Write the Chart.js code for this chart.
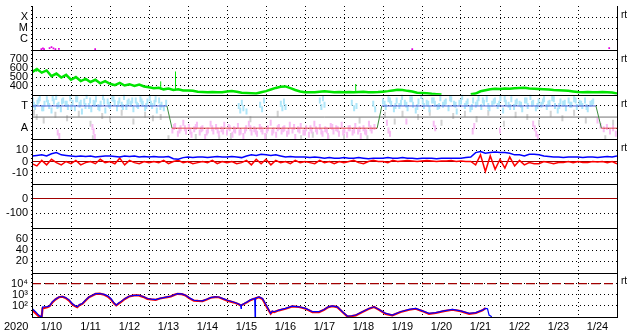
<!DOCTYPE html>
<html>
<head>
<meta charset="utf-8">
<script src="https://cdn.jsdelivr.net/npm/chart.js@4/dist/chart.umd.min.js"></script>
<style>
  html, body { margin: 0; padding: 0; background: #fff; }
  #wrap { position: relative; width: 633px; height: 334px; }
</style>
</head>
<body>
<div id="wrap"><canvas id="chart"></canvas></div>
<script>
// x axis: days since 2020-01-10 00:00
const dayLabels = ['1/10', '1/11', '1/12', '1/13', '1/14', '1/15', '1/16', '1/17', '1/18', '1/19', '1/20', '1/21', '1/22', '1/23', '1/24'];
const yearLabel = '2020';
const fullSpan = [0, 15];

// panel 1: x-ray class
const xrayTicks = [1e-4, 1e-5, 1e-6];
const xrayTickLabels = ['X', 'M', 'C'];
const xrayTime = [0.24, 0.28, 0.31, 0.45, 0.5, 0.55, 0.6, 0.69, 1.62, 9.75, 14.8];
const xrayFlux = [1.3e-7, 1.5e-7, 1.3e-7, 1.6e-7, 2e-7, 1.5e-7, 1.3e-7, 1.4e-7, 1.3e-7, 1.3e-7, 1.6e-7];

// panel 2: solar wind speed, one value every 3 hours
const speedTicks = [700, 600, 500, 400];
const speedStep = 0.125;
const speed = [
  555, 590, 550, 575, 510, 540, 495, 525,
  470, 500, 455, 480, 445, 470, 430, 455,
  425, 410, 435, 405, 420, 400, 415, 395,
  385, 375, 380, 362, 370, 356, 362, 350,
  350, 345, 335, 332, 330, 332, 328, 330,
  338, 342, 335, 325, 322, 318, 315, 330,
  342, 360, 378, 392, 395, 375, 355, 338,
  330, 328, 330, 335, 340, 336, 330, 332,
  330, 332, 330, 332, 334, 330, 330, 331,
  336, 342, 350, 358, 355, 345, 338, 325,
  322, 318, 312, 308, 305, null, null, null,
  null, null, 306, 315, 340, 352, 362, 368,
  366, 372, 370, 375, 378, 380, 372, 368,
  365, 362, 360, 355, 352, 348, 345, 338,
  332, 330, 332, 328, 330, 332, 330, 326, 316
];
const speedSpikeTime = [0.12, 3.3, 3.68, 8.3];
const speedSpikeBase = [560, 362, 358, 333];
const speedSpikeTop = [600, 452, 563, 422];

// panel 3: sector (T / A)
const sectorTicks = [1, -1];
const sectorTickLabels = ['T', 'A'];
const sectorTime = [0, 3.46, 3.59, 8.85, 8.97, 14.46, 14.6, 15];
const sectorVal = [1, 1, -1, -1, 1, 1, -1, -1];
const sectorMid = [0, 0];
const phiBlueTime = [
  0.02, 0.08, 0.14, 0.2, 0.26, 0.32, 0.38, 0.44, 0.5, 0.56, 0.62, 0.68, 0.74, 0.8, 0.86, 0.92, 0.98,
  1.04, 1.1, 1.16, 1.22, 1.28, 1.34, 1.4, 1.46, 1.52, 1.58, 1.64, 1.7, 1.76, 1.82, 1.88, 1.94,
  2.0, 2.06, 2.12, 2.18, 2.24, 2.3, 2.36, 2.42, 2.48, 2.54, 2.6, 2.66, 2.72, 2.78, 2.84, 2.9, 2.96,
  3.02, 3.08, 3.14, 3.2, 3.26, 3.32, 3.38, 3.44,
  5.3, 5.34, 5.38, 5.42, 5.5, 5.85, 5.9, 5.95, 6.38, 6.42, 6.46, 6.5, 7.38, 7.42, 7.46, 7.5,
  8.2, 8.26, 8.32, 8.75, 8.8,
  9.0, 9.07, 9.14, 9.21, 9.28, 9.35, 9.42, 9.49, 9.56, 9.63, 9.7, 9.77, 9.84, 9.91, 9.98,
  10.05, 10.12, 10.19, 10.26, 10.33, 10.4, 10.47, 10.54, 10.61, 10.68, 10.75, 10.82, 10.89, 10.96,
  11.03, 11.1, 11.17, 11.24, 11.31, 11.38, 11.45, 11.52, 11.59, 11.66, 11.73, 11.8, 11.87, 11.94,
  12.01, 12.08, 12.15, 12.22, 12.29, 12.36, 12.43, 12.5, 12.57, 12.64, 12.71, 12.78, 12.85, 12.92, 12.99,
  13.06, 13.13, 13.2, 13.27, 13.34, 13.41, 13.48, 13.55, 13.62, 13.69, 13.76, 13.83, 13.9, 13.97,
  14.04, 14.11, 14.18, 14.25, 14.32, 14.39,
  0.05, 0.17, 0.29, 0.41, 0.53, 0.65, 0.77, 0.89, 1.01, 1.13, 1.25, 1.37, 1.49, 1.61, 1.73, 1.85, 1.97,
  2.09, 2.21, 2.33, 2.45, 2.57, 2.69, 2.81, 2.93, 3.05, 3.17, 3.29,
  9.04, 9.18, 9.32, 9.46, 9.6, 9.74, 9.88, 10.02, 10.16, 10.3, 10.44, 10.58, 10.72, 10.86, 11.0,
  11.14, 11.28, 11.42, 11.56, 11.7, 11.84, 11.98, 12.12, 12.26, 12.4, 12.54, 12.68, 12.82, 12.96,
  13.1, 13.24, 13.38, 13.52, 13.66, 13.8, 13.94, 14.08, 14.22, 14.36
];
const phiBlueVal = [
  1.5, 0.9, 1.3, 1.7, 0.8, 1.2, 1.6, 1.0, 0.6, 1.4, 1.8, 1.1, 0.7, 1.5, 1.2, 0.9, 1.7,
  1.3, 0.8, 1.6, 1.1, 0.5, 1.4, 1.9, 1.0, 0.7, 1.3, 1.6, 0.9, 1.2, 1.8, 0.6, 1.4,
  1.0, 1.7, 1.3, 0.8, 1.5, 1.1, 1.8, 0.9, 1.4, 1.2, 0.7, 1.5, 1.0, 1.6, 1.2, 0.8, 1.4,
  1.7, 1.0, 1.3, 0.6, 1.5, 1.1, 0.8, 1.3,
  1.0, 0.6, 1.3, 0.8, 0.5, 1.1, 0.7, 1.5, 1.2, 0.8, 1.4, 0.9, 1.5, 0.9, 1.7, 1.1,
  1.3, 0.8, 1.0, 1.2, 0.7,
  1.4, 0.9, 1.6, 1.2, 0.7, 1.5, 1.0, 1.8, 1.3, 0.8, 1.6, 1.1, 0.6, 1.4, 1.9,
  1.0, 1.3, 0.7, 1.5, 1.2, 0.9, 1.7, 1.1, 1.4, 0.8, 1.6, 1.2, 0.5, 1.3,
  1.8, 1.0, 1.4, 0.7, 1.5, 1.1, 1.7, 0.9, 1.3, 1.6, 0.8, 1.2, 1.5, 1.0,
  1.7, 0.6, 1.3, 1.1, 1.6, 0.9, 1.4, 1.2, 0.7, 1.5, 1.0, 1.8, 1.3, 0.8, 1.4,
  1.1, 1.6, 0.9, 1.3, 1.7, 1.0, 0.6, 1.4, 1.2, 0.8, 1.5, 1.1, 1.6, 0.9,
  1.3, 1.0, 1.5, 0.7, 1.2, 1.4,
  1.1, 1.5, 0.8, 1.3, 1.7, 1.0, 1.4, 1.2, 0.9, 1.6, 1.3, 1.0, 1.5, 1.2, 0.8, 1.4, 1.1,
  1.6, 1.2, 0.9, 1.3, 1.5, 1.1, 1.4, 1.0, 1.2, 1.6, 0.9,
  1.2, 1.5, 1.0, 1.3, 1.1, 1.6, 0.9, 1.4, 1.2, 1.5, 1.0, 1.3, 1.7, 1.1, 1.4,
  1.2, 0.9, 1.3, 1.5, 1.0, 1.4, 1.2, 1.6, 0.9, 1.3, 1.1, 1.5, 1.2, 1.0,
  1.4, 1.2, 1.6, 1.0, 1.3, 1.1, 1.5, 1.2, 0.9, 1.3
];
const phiPinkTime = [
  0.66, 0.7, 1.55, 1.58, 1.61,
  3.6, 3.67, 3.74, 3.81, 3.88, 3.95, 4.02, 4.09, 4.16, 4.23, 4.3, 4.37, 4.44, 4.51, 4.58, 4.65, 4.72, 4.79, 4.86, 4.93,
  5.0, 5.07, 5.14, 5.21, 5.28, 5.35, 5.42, 5.49, 5.56, 5.63, 5.7, 5.77, 5.84, 5.91, 5.98,
  6.05, 6.12, 6.19, 6.26, 6.33, 6.4, 6.47, 6.54, 6.61, 6.68, 6.75, 6.82, 6.89, 6.96,
  7.03, 7.1, 7.17, 7.24, 7.31, 7.38, 7.45, 7.52, 7.59, 7.66, 7.73, 7.8, 7.87, 7.94,
  8.01, 8.08, 8.15, 8.22, 8.29, 8.36, 8.43, 8.5, 8.57, 8.64, 8.71, 8.78,
  3.64, 3.78, 3.92, 4.06, 4.2, 4.34, 4.48, 4.62, 4.76, 4.9, 5.04, 5.18, 5.32, 5.46, 5.6, 5.74, 5.88,
  6.02, 6.16, 6.3, 6.44, 6.58, 6.72, 6.86, 7.0, 7.14, 7.28, 7.42, 7.56, 7.7, 7.84, 7.98,
  8.12, 8.26, 8.4, 8.54, 8.68,
  9.1, 9.14, 9.18, 9.6, 10.3, 10.34, 11.3, 11.34, 12.0, 12.85, 12.89, 12.93, 12.97,
  14.5, 14.58, 14.66, 14.74, 14.82, 14.9, 14.97
];
const phiPinkVal = [
  -1.4, -1.7, -0.9, -1.3, -1.8,
  -1.2, -0.8, -1.5, -1.0, -0.5, -1.3, -0.9, -1.6, -1.1, -0.7, -1.4, -1.0, -1.8, -1.2, -0.6, -1.3, -0.9, -1.5, -1.1, -0.7,
  -1.4, -1.0, -1.6, -1.2, -0.8, -1.3, -1.7, -1.0, -0.6, -1.4, -1.1, -1.5, -0.9, -1.3, -1.7,
  -1.0, -0.5, -1.2, -1.6, -0.9, -1.3, -1.0, -1.5, -0.7, -1.2, -1.8, -1.1, -0.8, -1.4,
  -1.0, -1.6, -1.2, -0.6, -1.3, -0.9, -1.5, -1.1, -1.7, -0.8, -1.3, -1.0, -1.5, -0.7,
  -1.2, -1.6, -1.0, -1.4, -0.8, -1.3, -1.7, -1.0, -1.4, -0.6, -1.2, -0.9,
  -0.9, -1.2, -1.0, -1.3, -0.9, -1.1, -1.4, -1.0, -1.2, -1.3, -0.9, -1.1, -1.4, -1.2, -1.0, -1.3, -1.1,
  -1.2, -1.4, -1.0, -1.1, -1.3, -0.9, -1.2, -1.4, -1.0, -1.1, -1.3, -1.2, -0.9, -1.1, -1.4,
  -1.0, -1.2, -1.1, -1.3, -1.0,
  -0.5, -1.2, -1.5, -0.4, -0.6, -1.0, -1.3, -0.8, -1.2, -0.6, -1.0, -1.5, -1.8,
  -0.3, -0.8, -1.1, -0.9, -1.3, -1.0, -1.5
];
const phiGreyTime = [
  0.05, 0.12, 0.3, 0.6, 0.9, 1.2, 1.5, 1.56, 1.8, 2.0, 2.3, 2.6, 2.9, 3.1, 3.3, 3.5,
  4.2, 4.8, 5.1, 5.6, 6.0, 6.3, 6.9, 7.2, 7.6, 8.0, 8.4, 8.6,
  9.05, 9.3, 9.5, 9.9, 10.2, 10.5, 10.8, 11.1, 11.4, 11.7, 12.1, 12.4, 12.7, 13.0, 13.3, 13.6, 13.9, 14.2, 14.7, 14.9
];
const phiGreyVal = [
  0.4, 0.0, -0.3, 0.2, -0.1, 0.3, -0.6, -1.9, 0.1, -0.2, 0.4, -0.4, 0.2, -0.1, 0.0, -1.9,
  -1.8, -1.9, -1.7, -0.2, -1.8, 0.3, -1.9, -1.6, -1.9, -1.8, -0.3, -1.9,
  0.2, -0.4, 0.3, 0.0, 0.4, -0.5, 0.1, 0.3, -0.2, 0.4, -0.6, 0.2, 0.0, -0.5, 0.3, -0.1, 0.4, -0.3, -1.9, -0.5
];

// panel 4: IMF, one value every 3 hours
const imfTicks = [10, 0, -10];
const imfStep = 0.125;
const bt = [
  5, 5.5, 6, 5, 7, 8, 6, 5.5,
  5, 4.5, 5, 4.5, 5, 4, 4.5, 5,
  5, 4.5, 4, 5, 4.5, 5, 4, 4.5,
  4, 4.5, 4, 4, 4.5, 2.5, 2, 3.5,
  4, 3.5, 4, 4, 3.5, 4, 4.5, 4,
  4, 4.5, 4, 3.5, 5, 6, 5.5, 6.5,
  6, 5.5, 6, 5, 4, 4.5, 4, 4,
  4, 3.5, 4, 3.5, 3, 3.5, 3, 3,
  3.5, 3, 3, 3.5, 3, 2.5, 3, 3,
  3, 3.5, 3, 3, 3.5, 3, 3, 2.5,
  3, 3, 3, 2.5, 3, 3, 3, 3,
  3, 3.5, 4, 8, 9, 7.5, 8, 8.5,
  8, 8, 7.5, 6, 6, 5, 6.5, 6.5,
  6, 5, 4.5, 4, 4, 3.5, 4, 4,
  4, 3.5, 4, 4, 3.5, 4, 4.5, 4, 5
];
const bz = [
  -2, -4, 1, -3, 2, -1, -3, 0,
  -2, 1, -3, -1, 0, -2, 2, -1,
  0, -2, 3, -3, 1, -1, -2, 0,
  -1, 0, -1, 1, -2, 0, 1, -1,
  0, -2, -1, 0, -1, 1, -2, 0,
  -1, 0, -2, -1, 1, -3, 2, -2,
  2, -3, 1, -1, 0, -2, 1, -1,
  0, -1, -2, 1, -1, 0, -2, 0,
  -1, 0, 1, -1, -2, 0, 1, 0,
  0, -1, 1, 0, 0.5, 1, 0.5, 0,
  0.5, 1, 0.5, 0, 0.5, 0.5, 1, 0,
  0.5, 0, 0, -3, 6, -9, 5, -7,
  2, -6, 4, -4, 1, -3, -1, -2,
  -2, 0, -1, -2, -1, -1, 0, -1,
  0, -1, -1, 0, -0.5, 0, -1, 0, -2
];
const imfZero = [0, 0];

// panel 5
const dstTicks = [0, -100];
const dstZero = [0, 0];

// panel 6
const kpTicks = [60, 40, 20];

// panel 7: electron flux
const fluxTicks = [1e4, 1e3, 1e2];
const fluxTickLabels = ['10\u2074', '10\u00b3', '10\u00b2'];
const fluxAlert = [1e4, 1e4];
const fluxTime = [
  0, 0.09, 0.17, 0.22, 0.25, 0.27, 0.39, 0.45, 0.52, 0.6,
  0.69, 0.78, 0.86, 0.95, 1.03, 1.1, 1.16, 1.22, 1.29, 1.38,
  1.46, 1.55, 1.63, 1.74, 1.85, 1.94, 2.02, 2.1, 2.16, 2.22,
  2.27, 2.38, 2.49, 2.62, 2.74, 2.85, 2.96, 3.06, 3.17, 3.28,
  3.38, 3.47, 3.56, 3.65, 3.73, 3.84, 3.94, 4.05, 4.15, 4.26,
  4.37, 4.48, 4.58, 4.69, 4.79, 4.9, 5.01, 5.12, 5.22, 5.3,
  5.35, 5.36, 5.37, 5.45, 5.52, 5.6, 5.69, 5.71, 5.72, 5.73,
  5.82, 5.91, 5.97, 6.03, 6.12, 6.16, 6.21, 6.33, 6.5, 6.67,
  6.85, 7.02, 7.19, 7.36, 7.49, 7.6, 7.7, 7.83, 7.96, 8.09,
  8.2, 8.3, 8.47, 8.64, 8.77, 8.9, 9.07, 9.24, 9.45, 9.67,
  9.84, 10.01, 10.18, 10.35, 10.56, 10.78, 10.99, 11.21, 11.38, 11.55,
  11.63, 11.68, 11.72, 11.79
];
const fluxBlue = [
  60, 30, 15, 11, 11, 80, 85, 100, 230, 400,
  630, 700, 560, 350, 165, 110, 83, 130, 165, 350,
  630, 900, 1260, 1300, 1100, 800, 460, 200, 117, 180,
  230, 450, 740, 900, 910, 700, 460, 400, 370, 480,
  560, 650, 740, 1000, 1260, 1200, 910, 500, 320, 290,
  280, 400, 560, 640, 630, 450, 320, 250, 190, 150,
  117, 60, 117, 170, 230, 350, 460, 460, 11, 500,
  630, 460, 200, 83, 21, 35, 30, 42, 59, 95,
  83, 59, 30, 30, 48, 83, 100, 83, 30, 12,
  13, 15, 30, 59, 83, 48, 21, 15, 30, 48,
  59, 36, 21, 25, 36, 48, 36, 21, 25, 42,
  59, 55, 15, 10.5
];
const fluxRed = [
  45, 22, 12, 11, 11, 60, 75, 95, 200, 380,
  600, 680, 520, 300, 140, 95, 75, 120, 150, 320,
  600, 880, 1200, 1250, 1000, 700, 400, 170, 110, 160,
  210, 420, 700, 880, 880, 650, 430, 380, 350, 460,
  540, 620, 720, 980, 1220, 1150, 850, 450, 300, 280,
  270, 380, 540, 620, 600, 420, 300, 230, 180, 140,
  110, 110, 110, 160, 220, 330, 440, 450, 450, 480,
  600, 420, 170, 70, 20, 30, 28, 40, 55, 90,
  80, 55, 28, 28, 45, 78, 95, 78, 28, 11,
  12, 14, 28, 55, 80, 45, 19, 14, 28, 45,
  55, 34, 19, 23, 34, 45, 34, 19, 23, 40,
  62, null, null, null
];

const font = { family: '"Liberation Sans", Arial, sans-serif', size: 11 };

const pts = (t, v) => t.map((x, i) => ({ x, y: v[i] }));
const stepPts = (step, v) => v.map((y, i) => ({ x: i * step, y }));
const spikePts = () => {
  const out = [];
  speedSpikeTime.forEach((t, i) => {
    out.push({ x: t, y: speedSpikeBase[i] }, { x: t, y: speedSpikeTop[i] }, { x: t, y: null });
  });
  return out;
};

function line(yAxisID, data, color, width, extra) {
  return Object.assign({
    yAxisID, xAxisID: 'x', data,
    borderColor: color, backgroundColor: color, borderWidth: width,
    pointRadius: 0, tension: 0, spanGaps: false
  }, extra || {});
}

function dots(yAxisID, data, color) {
  return {
    yAxisID, xAxisID: 'x', data, showLine: false,
    pointStyle: 'line', rotation: 90, pointRadius: 3,
    pointBorderColor: color, pointBorderWidth: 2, pointBackgroundColor: color,
    borderColor: color, backgroundColor: color
  };
}

function panelAxis(weight, type, min, max, tickVals, tickLabels) {
  return {
    type, min, max, position: 'left', stack: 'panels', stackWeight: 1, weight,
    afterBuildTicks: (s) => { s.ticks = tickVals.map(v => ({ value: v })); },
    afterFit: (s) => { s.width = 32; s.paddingTop = 0; s.paddingBottom = 0; },
    ticks: {
      autoSkip: false, padding: 4, color: '#000', font,
      callback: (v) => {
        const i = tickVals.indexOf(v);
        if (i < 0) return '';
        return tickLabels ? tickLabels[i] : String(v);
      }
    },
    grid: { color: '#000', lineWidth: 1, drawTicks: false },
    border: { display: false, dash: [1, 3] }
  };
}

const panelFrame = {
  id: 'panelFrame',
  afterDatasetsDraw(chart) {
    const { ctx, chartArea: a, scales } = chart;
    ctx.save();
    ctx.strokeStyle = '#000';
    ctx.lineWidth = 1;
    ctx.beginPath();
    Object.values(scales).forEach(s => {
      if (s.axis !== 'y') return;
      const y = Math.round(s.bottom) + 0.5;
      ctx.moveTo(a.left, y);
      ctx.lineTo(a.right + 1, y);
    });
    const l = Math.round(a.left) + 0.5;
    const r = Math.round(a.right) + 0.5;
    ctx.moveTo(l, a.top);
    ctx.lineTo(l, a.bottom);
    ctx.moveTo(r, a.top);
    ctx.lineTo(r, a.bottom);
    ctx.stroke();
    ctx.restore();
  },
  afterDraw(chart) {
    const { ctx, chartArea: a, scales } = chart;
    ctx.save();
    ctx.fillStyle = '#000';
    ctx.textBaseline = 'middle';
    ctx.font = '10px "Liberation Sans", Arial, sans-serif';
    ['yXray', 'ySpeed', 'ySector', 'yImf', 'yFlux'].forEach(id => {
      ctx.fillText('rt', a.right + 4, scales[id].top + 9);
    });
    ctx.font = '11px "Liberation Sans", Arial, sans-serif';
    ctx.fillText(yearLabel, 4, a.bottom + 10);
    ctx.restore();
  }
};

const sectorSegment = {
  borderColor: (c) => {
    if (c.p0.parsed.y !== c.p1.parsed.y) return '#3c8a3c';
    return c.p0.parsed.y > 0 ? '#4a5ed6' : '#e04646';
  }
};

new Chart(document.getElementById('chart'), {
  type: 'line',
  data: {
    datasets: [
      { yAxisID: 'yXray', xAxisID: 'x', data: pts(xrayTime, xrayFlux), showLine: false,
        pointStyle: 'rect', pointRadius: 1.2, pointBorderWidth: 0,
        pointBackgroundColor: '#e000e0', borderColor: '#e000e0' },

      line('ySpeed', spikePts(), '#00e400', 1),
      line('ySpeed', stepPts(speedStep, speed), '#00e400', 2.5),

      line('ySector', pts(sectorTime, sectorVal), '#4a5ed6', 1, { segment: sectorSegment }),
      line('ySector', pts(fullSpan, sectorMid), '#707070', 1),
      dots('ySector', pts(phiBlueTime, phiBlueVal), '#aee6f9'),
      dots('ySector', pts(phiPinkTime, phiPinkVal), '#f7bcf3'),
      dots('ySector', pts(phiGreyTime, phiGreyVal), '#d2d2d2'),

      line('yImf', stepPts(imfStep, bt), '#0000ff', 1.5),
      line('yImf', stepPts(imfStep, bz), '#ff0000', 1.5),
      line('yImf', pts(fullSpan, imfZero), '#a00000', 1),

      line('yDst', pts(fullSpan, dstZero), '#a00000', 1.2),

      line('yFlux', pts(fluxTime, fluxBlue), '#0000ff', 1.2),
      line('yFlux', pts(fluxTime, fluxRed), '#ff0000', 2.2),
      line('yFlux', pts(fullSpan, fluxAlert), '#a00000', 1.2, { borderDash: [9, 4] })
    ]
  },
  options: {
    responsive: true,
    maintainAspectRatio: false,
    animation: false,
    layout: { padding: { top: 2, right: 16, bottom: 0, left: 0 } },
    plugins: { legend: { display: false }, tooltip: { enabled: false } },
    scales: {
      x: {
        type: 'linear', min: 0, max: 15, position: 'bottom',
        afterBuildTicks: (s) => { s.ticks = dayLabels.map((_, i) => ({ value: i })).concat([{ value: 15 }]); },
        afterFit: (s) => { s.height = 17; s.paddingLeft = 0; s.paddingRight = 0; },
        ticks: {
          autoSkip: false, maxRotation: 0, padding: 3, labelOffset: 19.5, color: '#000', font,
          callback: (v) => dayLabels[v] || ''
        },
        grid: { color: '#000', lineWidth: 1, drawTicks: false },
        border: { display: false, dash: [1, 3] }
      },
      yXray: panelAxis(7, 'logarithmic', 1e-7, 1e-3, xrayTicks, xrayTickLabels),
      ySpeed: panelAxis(6, 'linear', 300, 800, speedTicks),
      ySector: panelAxis(5, 'linear', -2, 2, sectorTicks, sectorTickLabels),
      yImf: panelAxis(4, 'linear', -20, 20, imfTicks),
      yDst: panelAxis(3, 'linear', -200, 100, dstTicks),
      yKp: panelAxis(2, 'linear', 0, 80, kpTicks),
      yFlux: panelAxis(1, 'logarithmic', 10, 1e5, fluxTicks, fluxTickLabels)
    }
  },
  plugins: [panelFrame]
});
</script>
</body>
</html>
